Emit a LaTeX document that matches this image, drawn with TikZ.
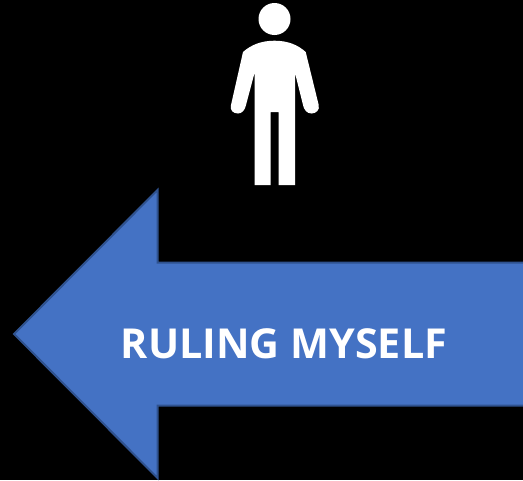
\documentclass[tikz,border=0pt]{standalone}
\usepackage{fontspec}
\setmainfont{Open Sans}
\usetikzlibrary{positioning,calc}
\definecolor{ArrowBlue}{RGB}{68,114,196}
\definecolor{ArrowEdge}{RGB}{47,82,143}
\tikzset{
    arrowshape/.style={fill=ArrowBlue,draw=ArrowEdge,line width=0.04cm,line join=miter},
    figureshape/.style={fill=white,draw=none},
    arrowlabel/.style={text=white,font=\fontsize{23.5}{28}\selectfont\bfseries,inner sep=0pt}
}
\begin{document}
\begin{tikzpicture}[x=0.02cm,y=-0.02cm]
    \fill[black] (0,0) rectangle (523,480);
    \useasboundingbox (0,0) rectangle (523,480);
    % person
    \fill[figureshape] (274.5,19) circle[radius=16];
    \fill[figureshape] (274.5,40.7) .. controls (288,40.7) and (298,45) .. (305.7,52)
        -- (318.7,105)
        .. controls (320,110) and (316,113.5) .. (311.5,113.5)
        .. controls (307,113.5) and (304,110) .. (303,105)
        -- (295,73) -- (295,185) -- (278.7,185) -- (278.7,112) -- (270.7,112)
        -- (270.7,185) -- (254.5,185) -- (254.5,73) -- (246,105)
        .. controls (245,110) and (242,113.5) .. (238,113.5)
        .. controls (233,113.5) and (229.5,110) .. (231,105)
        -- (243,52) .. controls (251,45) and (261,40.7) .. (274.5,40.7) -- cycle;
    % arrow
    \draw[arrowshape] (14,334) -- (157.5,190) -- (157.5,262.5) -- (525,262.5) -- (525,405.5)
        -- (157.5,405.5) -- (157.5,478) -- cycle;
    \node[arrowlabel] (label) at (284,344) {RULING MYSELF};
\end{tikzpicture}
\end{document}
